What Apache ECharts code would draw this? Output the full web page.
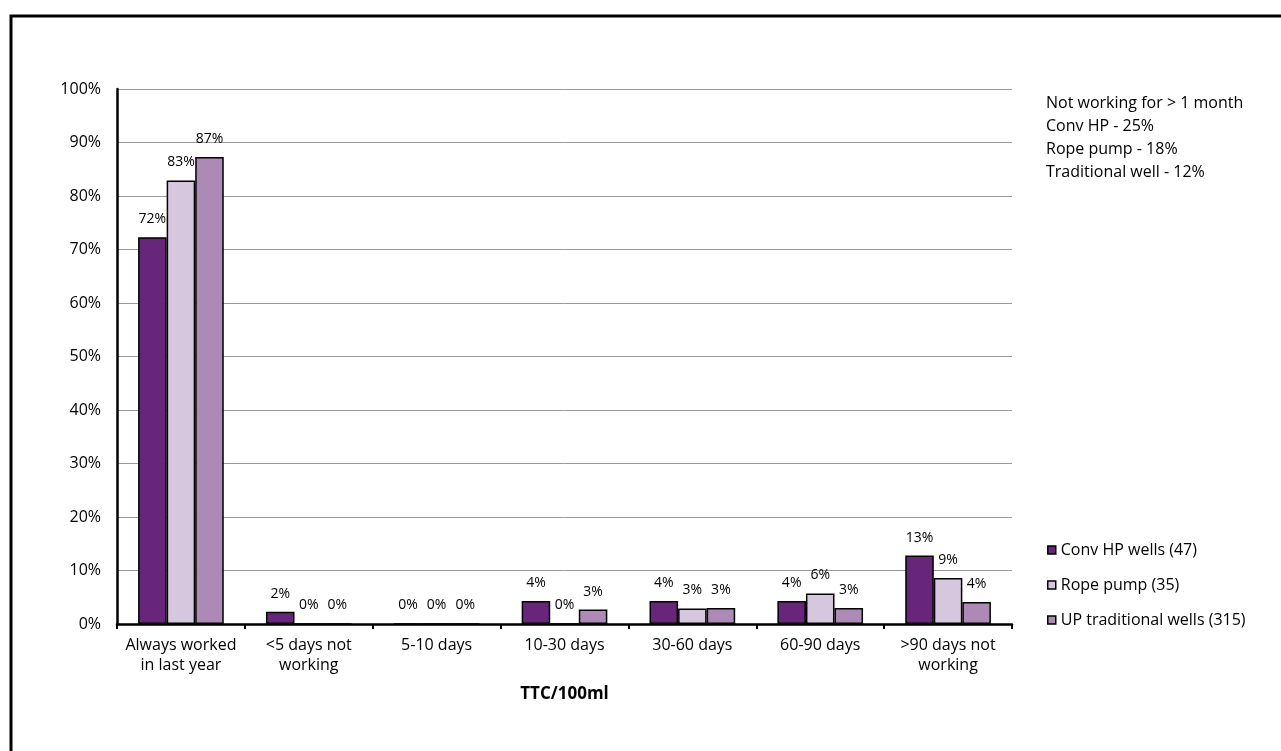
<!DOCTYPE html>
<html>
<head>
<meta charset="utf-8">
<script src="https://cdn.jsdelivr.net/npm/echarts@6/dist/echarts.min.js"></script>
<style>
  html, body { margin: 0; padding: 0; background: #fff; }
  #chart { width: 1281px; height: 751px; }
</style>
</head>
<body>
<div id="chart"></div>
<script>
// categories on the x axis
const categories = [
  'Always worked\nin last year',
  '<5 days not\nworking',
  '5-10 days',
  '10-30 days',
  '30-60 days',
  '60-90 days',
  '>90 days not\nworking'
];

// percentages per series
const convHP = [72.3, 2.3, 0, 4.3, 4.3, 4.3, 12.8];
const ropePump = [82.9, 0, 0, 0, 2.9, 5.7, 8.6];
const upTraditional = [87.3, 0, 0, 2.7, 3.0, 3.0, 4.1];

const seriesNames = ['Conv HP wells (47)', 'Rope pump (35)', 'UP traditional wells (315)'];
const seriesColors = ['#68267a', '#d6c6de', '#ad8ab5'];

// note on the top right
const noteLines = [
  'Not working for > 1 month',
  'Conv HP - 25%',
  'Rope pump - 18%',
  'Traditional well - 12%'
];

const font = '"Open Sans", "Liberation Sans", sans-serif';

const myChart = echarts.init(document.getElementById('chart'));

function makeSeries(name, data, color) {
  return {
    name: name,
    type: 'bar',
    data: data,
    barGap: '0%',
    barCategoryGap: '33%',
    itemStyle: { color: color, borderColor: '#000', borderWidth: 1.5 },
    label: {
      show: true,
      position: 'top',
      distance: 11,
      color: '#000',
      fontSize: 14,
      fontFamily: font,
      formatter: p => Math.round(p.value) + '%'
    }
  };
}

const option = {
  animation: false,
  backgroundColor: '#fff',
  textStyle: { fontFamily: font },
  grid: { left: 117, right: 269, top: 89, bottom: 127 },
  legend: {
    orient: 'vertical',
    left: 1042,
    top: 535,
    icon: 'rect',
    itemWidth: 8,
    itemHeight: 8,
    itemGap: 15,
    itemStyle: { borderColor: '#000', borderWidth: 1.5 },
    textStyle: { fontSize: 16, color: '#000', fontFamily: font, lineHeight: 20 },
    data: seriesNames
  },
  xAxis: {
    type: 'category',
    data: categories,
    name: 'TTC/100ml',
    nameLocation: 'middle',
    nameGap: 62,
    nameTextStyle: { fontWeight: 'bold', fontSize: 17, color: '#000', fontFamily: font },
    axisLine: { lineStyle: { color: '#000', width: 2.5 } },
    axisTick: { show: true, alignWithLabel: false, length: 5, lineStyle: { color: '#000', width: 2 } },
    axisLabel: { color: '#000', fontSize: 16, margin: 11, lineHeight: 20, interval: 0, fontFamily: font }
  },
  yAxis: {
    type: 'value',
    min: 0,
    max: 100,
    interval: 10,
    axisLine: { show: true, lineStyle: { color: '#000', width: 2.5 } },
    axisTick: { show: false },
    axisLabel: { color: '#000', fontSize: 16, margin: 16, formatter: '{value}%', fontFamily: font },
    splitLine: { lineStyle: { color: '#999', width: 1 } }
  },
  graphic: [
    {
      type: 'rect',
      silent: true,
      shape: { x: 11, y: 16, width: 1400, height: 900 },
      style: { fill: 'none', stroke: '#000', lineWidth: 3 }
    },
    {
      type: 'text',
      left: 1046,
      top: 92,
      style: {
        text: noteLines.join('\n'),
        font: '16px ' + font,
        lineHeight: 23,
        fill: '#000'
      }
    }
  ],
  series: [
    makeSeries(seriesNames[0], convHP, seriesColors[0]),
    makeSeries(seriesNames[1], ropePump, seriesColors[1]),
    makeSeries(seriesNames[2], upTraditional, seriesColors[2])
  ]
};

option && myChart.setOption(option);
</script>
</body>
</html>
